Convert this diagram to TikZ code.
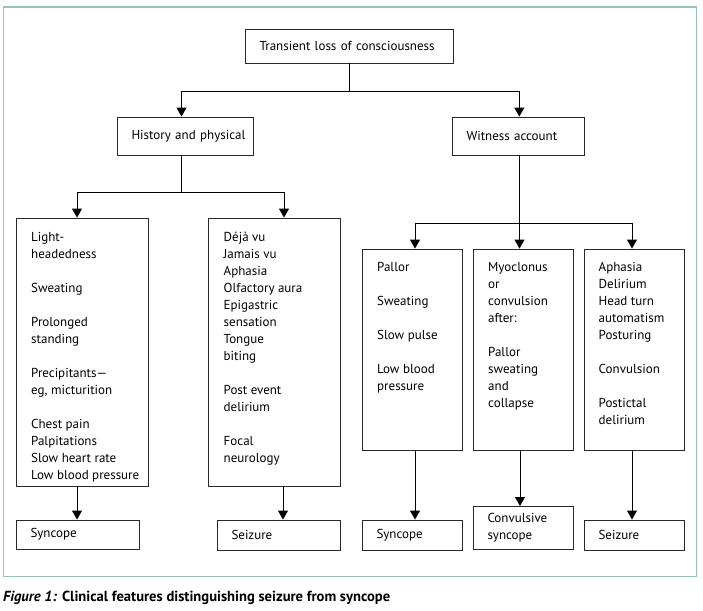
\documentclass[tikz,border=0pt]{standalone}
\usepackage{fontspec}
\setmainfont{PT Sans}
\usetikzlibrary{arrows.meta}
\definecolor{framecol}{RGB}{150,196,178}
\definecolor{boxline}{RGB}{40,40,40}
\hyphenpenalty=10000
\begin{document}
\begin{tikzpicture}[x=1pt,y=-1pt,
  box/.style={draw=boxline, line width=0.9pt, inner ysep=0pt, inner xsep=14.5pt, align=left,
              font=\fontsize{13}{17}\selectfont},
  tall/.style={draw=boxline, line width=0.9pt, inner sep=0pt},
  lbl/.style={font=\fontsize{13}{17}\selectfont, align=left, anchor=north west, inner sep=0pt},
  conn/.style={line width=0.9pt, black},
  arr/.style={conn, -{Triangle[width=10pt,length=9pt]}}]
\useasboundingbox (0,0) rectangle (703,610);
\draw[framecol, line width=1.4pt] (3.5,7) rectangle (696.5,576.5);

% top levels
\node[box, minimum width=208pt, minimum height=34pt, text width=179pt] (top) at (349,46) {Transient loss of consciousness};
\node[box, minimum width=136pt, minimum height=38pt, text width=107pt] (hist) at (185,136) {\mbox{History and physical}};
\node[box, minimum width=132pt, minimum height=38pt, text width=103pt] (wit) at (518,136) {Witness account};

% tall boxes
\node[tall, minimum width=132pt, minimum height=268pt] (b1) at (82,352) {};
\node[tall, minimum width=132pt, minimum height=268pt] (b2) at (274,352) {};
\node[tall, minimum width=100pt, minimum height=201pt] (b3) at (412,349.5) {};
\node[tall, minimum width=100pt, minimum height=201pt] (b4) at (523,349.5) {};
\node[tall, minimum width=100pt, minimum height=201pt] (b5) at (634,349.5) {};

\node[lbl] (t1) at (31,229.6) {\strut Light-\\headedness\\[17pt]Sweating\\[17pt]Prolonged\\standing\\[17pt]Precipitants—\\eg, micturition\\[17pt]Chest pain\\Palpitations\\Slow heart rate\\Low blood pressure};
\node[lbl] (t2) at (223.5,229.6) {\strut Déjà vu\\Jamais vu\\Aphasia\\Olfactory aura\\Epigastric\\sensation\\Tongue\\biting\\[17pt]Post event\\delirium\\[17pt]Focal\\neurology};
\node[lbl] (t3) at (377,259.6) {\strut Pallor\\[17pt]Sweating\\[17pt]Slow pulse\\[17pt]Low blood\\pressure};
\node[lbl] (t4) at (488,259.6) {\strut Myoclonus\\or\\convulsion\\after:\\[17pt]Pallor\\sweating\\and\\collapse};
\node[lbl] (t5) at (598.5,259.6) {\strut Aphasia\\Delirium\\Head turn\\automatism\\Posturing\\[17pt]Convulsion\\[17pt]Postictal\\delirium};

% outcome boxes
\node[box, minimum width=123pt, minimum height=29pt, text width=94pt] (s1) at (77.5,534.5) {Syncope};
\node[box, minimum width=123pt, minimum height=30pt, text width=94pt] (s2) at (278.5,535) {Seizure};
\node[box, minimum width=100pt, minimum height=30pt, text width=71pt] (s3) at (412,535) {Syncope};
\node[box, minimum width=100pt, minimum height=43pt, text width=71pt] (s4) at (523,528) {Convulsive\\syncope};
\node[box, minimum width=100pt, minimum height=30pt, text width=71pt] (s5) at (634,535) {Seizure};

% connectors level 1
\coordinate (j1) at (349,91);
\draw[conn] (top.south) -- (j1);
\draw[arr] (j1) -| ([xshift=-3.5pt]hist.north);
\draw[arr] (j1) -| ([xshift=1.3pt]wit.north);

% connectors level 2 left
\coordinate (j2) at (181.5,192);
\draw[conn] ([xshift=-3.5pt]hist.south) -- (j2);
\draw[arr] (j2) -| ([xshift=-5pt]b1.north);
\draw[arr] (j2) -| ([xshift=10pt]b2.north);

% connectors level 2 right
\coordinate (j3) at (519.5,223);
\draw[conn] ([xshift=1.5pt]wit.south) -- (j3);
\draw[arr] (j3) -| ([xshift=3pt]b3.north);
\draw[arr] (j3) -- ([xshift=-3.5pt]b4.north);
\draw[arr] (j3) -| ([xshift=-2pt]b5.north);

% bottom arrows
\draw[arr] ([xshift=-5pt]b1.south) -- ([xshift=-5pt]b1.south |- s1.north);
\draw[arr] ([xshift=9pt]b2.south) -- ([xshift=9pt]b2.south |- s2.north);
\draw[arr] ([xshift=3pt]b3.south) -- ([xshift=3pt]b3.south |- s3.north);
\draw[arr] ([xshift=-3pt]b4.south) -- ([xshift=-3pt]b4.south |- s4.north);
\draw[arr] ([xshift=-2pt]b5.south) -- ([xshift=-2pt]b5.south |- s5.north);

% caption
\node[anchor=base west, inner sep=0pt, font=\fontsize{14.6}{17}\selectfont\bfseries] (cap) at (3,601) {\textit{Figure 1:} Clinical features distinguishing seizure from syncope};
\end{tikzpicture}
\end{document}
